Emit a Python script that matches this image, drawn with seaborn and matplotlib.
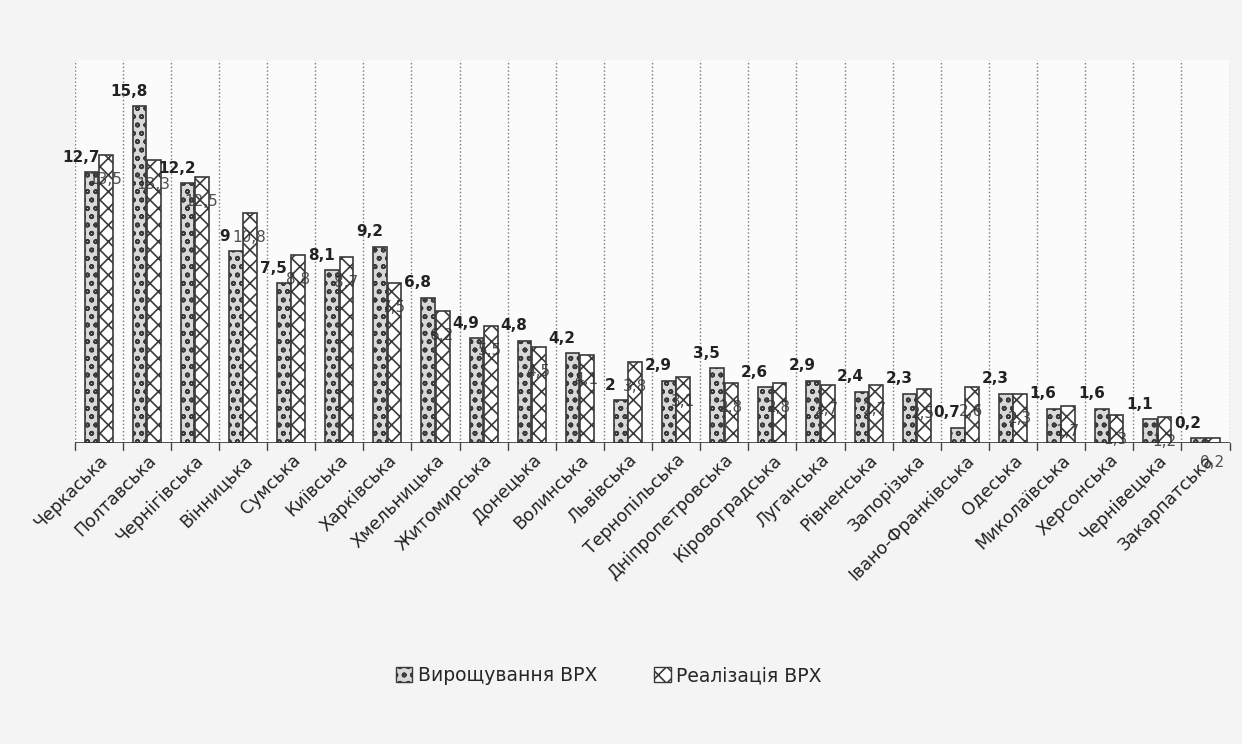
import pandas as pd
import matplotlib.pyplot as plt
import seaborn as sns
import numpy as np
from matplotlib.patches import Patch

# Дані: області та показники
regions = ['Черкаська', 'Полтавська', 'Чернігівська', 'Вінницька', 'Сумська', 'Київська',
           'Харківська', 'Хмельницька', 'Житомирська', 'Донецька', 'Волинська', 'Львівська',
           'Тернопільська', 'Дніпропетровська', 'Кіровоградська', 'Луганська', 'Рівненська',
           'Запорізька', 'Івано-Франківська', 'Одеська', 'Миколаївська', 'Херсонська',
           'Чернівецька', 'Закарпатська']
growing = [12.7, 15.8, 12.2, 9.0, 7.5, 8.1, 9.2, 6.8, 4.9, 4.8, 4.2, 2.0,
           2.9, 3.5, 2.6, 2.9, 2.4, 2.3, 0.7, 2.3, 1.6, 1.6, 1.1, 0.2]
selling = [13.5, 13.3, 12.5, 10.8, 8.8, 8.7, 7.5, 6.2, 5.5, 4.5, 4.1, 3.8,
           3.1, 2.8, 2.8, 2.7, 2.7, 2.5, 2.6, 2.3, 1.7, 1.3, 1.2, 0.2]
series_names = ['Вирощування ВРХ', 'Реалізація ВРХ']

df = pd.DataFrame({'Область': regions * 2,
                   'Значення': growing + selling,
                   'Серія': [series_names[0]] * len(regions) + [series_names[1]] * len(regions)})

sns.set_style('white')
plt.rcParams['font.family'] = ['Verdana', 'DejaVu Sans']
plt.rcParams['hatch.linewidth'] = 1.2

fig = plt.figure(figsize=(12.42, 7.44), dpi=100)
fig.patch.set_facecolor('#f4f4f4')
ax = fig.add_axes([0.06, 0.405, 0.93, 0.515])
ax.set_facecolor('#fbfbfb')

sns.barplot(data=df, x='Область', y='Значення', hue='Серія', ax=ax,
            width=0.6, gap=0.05, palette=['#d8d8d8', '#ffffff'],
            edgecolor='#3a3a3a', linewidth=1.2, legend=False)

# Штрихування як у скані
hatches = ['oo', 'xx']
for cont, h in zip(ax.containers, hatches):
    for bar in cont:
        bar.set_hatch(h)

# Підписи значень (формат з комою)
def fmt(v):
    s = f'{v:.1f}'.replace('.', ',')
    return s[:-2] if s.endswith(',0') else s

for bar, v in zip(ax.containers[0], growing):
    ax.text(bar.get_x() - 0.08, v + 0.35, fmt(v), ha='center', va='bottom',
            fontsize=11, color='#222222', fontweight='bold')
for bar, v in zip(ax.containers[1], selling):
    ax.text(bar.get_x() + bar.get_width() * 0.45, v - 0.8, fmt(v), ha='center', va='top',
            fontsize=11, color='#333333', alpha=0.85)

ax.set_ylim(0, 18)
ax.set_xlim(-0.5, len(regions) - 0.5)
for i in range(len(regions) + 1):
    ax.axvline(i - 0.5, color='#777777', linestyle=':', linewidth=1.0, zorder=0)
    ax.plot([i - 0.5, i - 0.5], [0, -0.35], color='#444444', lw=1, clip_on=False)
ax.axhline(0, color='#333333', lw=1.2)

ax.set_yticks([])
ax.set_xlabel('')
ax.set_ylabel('')
for s in ['top', 'right', 'left', 'bottom']:
    ax.spines[s].set_visible(False)
ax.tick_params(axis='x', length=0, pad=6)
plt.setp(ax.get_xticklabels(), rotation=45, ha='right', rotation_mode='anchor',
         fontsize=12.5, color='#222222')

# Легенда
handles = [Patch(facecolor='#d8d8d8', edgecolor='#3a3a3a', hatch='oo'),
           Patch(facecolor='#ffffff', edgecolor='#3a3a3a', hatch='xx')]
fig.legend(handles, series_names, loc='center', bbox_to_anchor=(0.49, 0.092), ncol=2,
           frameon=False, fontsize=13.5, handlelength=0.9, handleheight=0.9,
           columnspacing=3.0, handletextpad=0.3)

fig.savefig('out.png', dpi=100, facecolor=fig.get_facecolor())
